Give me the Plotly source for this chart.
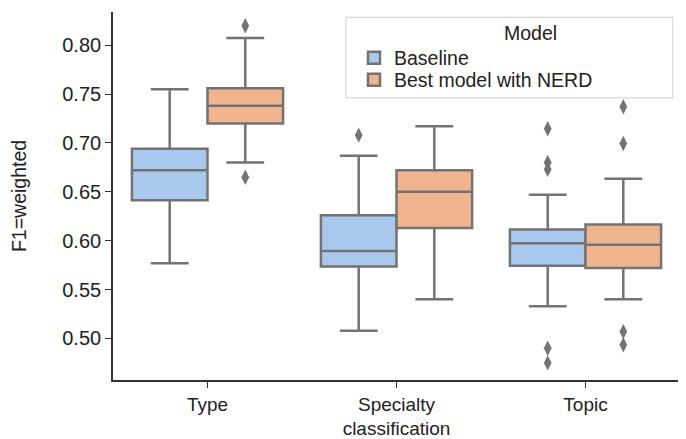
import plotly.graph_objects as go

categories = ["Type", "Specialty<br>classification", "Topic"]
models = ["Baseline", "Best model with NERD"]

# Box statistics per model, one value per category
baseline_lowerfence = [0.577, 0.508, 0.533]
baseline_q1 = [0.6415, 0.5735, 0.5745]
baseline_median = [0.672, 0.5895, 0.5975]
baseline_q3 = [0.694, 0.626, 0.6115]
baseline_upperfence = [0.755, 0.687, 0.647]

nerd_lowerfence = [0.680, 0.540, 0.540]
nerd_q1 = [0.720, 0.613, 0.572]
nerd_median = [0.738, 0.650, 0.596]
nerd_q3 = [0.756, 0.672, 0.6165]
nerd_upperfence = [0.8075, 0.717, 0.6635]

# Outliers per category
baseline_outliers = [[], [0.708], [0.7145, 0.680, 0.673, 0.490, 0.475]]
nerd_outliers = [[0.820, 0.665], [], [0.737, 0.6995, 0.507, 0.4935]]

colors = ["#a9c8ed", "#f0b58f"]
line_gray = "#737373"
offsets = [-0.2, 0.2]
legend_ids = ["legend", "legend2"]

fig = go.Figure()

stats = [
    (baseline_lowerfence, baseline_q1, baseline_median, baseline_q3, baseline_upperfence, baseline_outliers),
    (nerd_lowerfence, nerd_q1, nerd_median, nerd_q3, nerd_upperfence, nerd_outliers),
]

for m, (lf, q1, med, q3, uf, outl) in enumerate(stats):
    xs = [i + offsets[m] for i in range(len(categories))]
    fig.add_trace(go.Box(
        x=xs, q1=q1, median=med, q3=q3, lowerfence=lf, upperfence=uf,
        name=models[m], width=0.4, whiskerwidth=0.5,
        fillcolor=colors[m], line=dict(color=line_gray, width=2.5),
        boxpoints=False, hoverinfo="skip", legend=legend_ids[m],
    ))
    ox, oy = [], []
    for i, vals in enumerate(outl):
        for v in vals:
            ox.append(i + offsets[m])
            oy.append(v)
    fig.add_trace(go.Scatter(
        x=ox, y=oy, mode="markers", showlegend=False,
        marker=dict(symbol="diamond-tall", size=11, color=line_gray, line=dict(width=0)),
    ))

axis_color = "#333333"
text_color = "#222222"
font_family = "Liberation Sans, Arial, sans-serif"
leg_common = dict(
    xanchor="left", yanchor="middle", bgcolor="rgba(255,255,255,0)", borderwidth=0,
    font=dict(family=font_family, size=19.5, color=text_color), itemwidth=30,
)

# The page body adds an 8px offset, so the figure is 8px smaller than the window
fig.update_layout(
    width=678, height=431,
    margin=dict(l=105, r=6, t=4, b=59, autoexpand=False),
    plot_bgcolor="white", paper_bgcolor="white",
    boxmode="overlay",
    showlegend=True,
    legend=dict(x=0.425, y=0.8748, **leg_common),
    legend2=dict(x=0.425, y=0.8149, **leg_common),
    shapes=[dict(type="rect", xref="paper", yref="paper",
                 x0=0.4107, x1=0.9871, y0=0.7667, y1=0.9856,
                 line=dict(color="#d9d9d9", width=1.2), fillcolor="rgba(255,255,255,0.8)", layer="below")],
    annotations=[dict(text="Model", xref="paper", yref="paper", x=0.7356, y=0.9428,
                      xanchor="center", yanchor="middle", showarrow=False,
                      font=dict(family=font_family, size=19.5, color=text_color))],
    xaxis=dict(
        range=[-0.5, 2.5], tickmode="array", tickvals=[0, 1, 2], ticktext=categories,
        showline=True, linecolor=axis_color, linewidth=1.6,
        ticks="outside", ticklen=6, tickwidth=1.4, tickcolor=axis_color,
        showgrid=False, zeroline=False, automargin=False,
        tickfont=dict(family=font_family, size=19, color=text_color),
    ),
    yaxis=dict(
        range=[0.4575, 0.834], tickmode="array",
        tickvals=[0.50, 0.55, 0.60, 0.65, 0.70, 0.75, 0.80], tickformat=".2f",
        showline=True, linecolor=axis_color, linewidth=1.6,
        ticks="outside", ticklen=6, tickwidth=1.4, tickcolor=axis_color,
        showgrid=False, zeroline=False, automargin=False,
        tickfont=dict(family=font_family, size=20, color=text_color),
        title=dict(text="F1=weighted", standoff=30,
                   font=dict(family=font_family, size=19.5, color=text_color)),
    ),
)

fig.write_html("out.html")
